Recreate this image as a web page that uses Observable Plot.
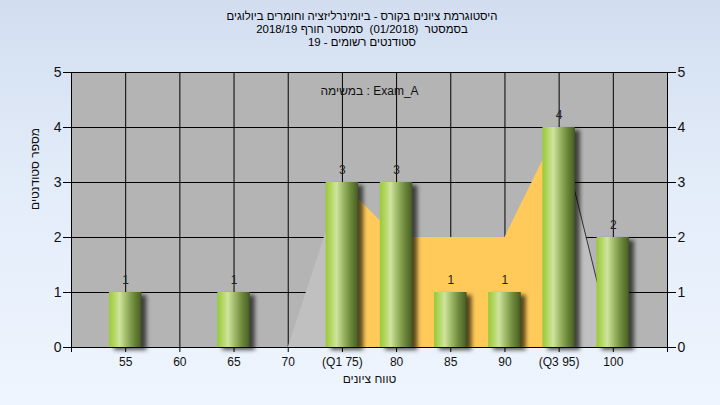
<!DOCTYPE html>
<html>
<head>
<meta charset="utf-8">
<script src="https://cdn.jsdelivr.net/npm/d3@7"></script>
<script src="https://cdn.jsdelivr.net/npm/@observablehq/plot@0.6"></script>
<style>
  html, body { margin: 0; padding: 0; }
  body {
    width: 720px; height: 405px; overflow: hidden;
    background: linear-gradient(to bottom, #d2def0 0%, #e3ecf9 45%, #eef5fe 100%);
    font-family: "Liberation Sans", Arial, sans-serif;
  }
  #title {
    height: 60px; box-sizing: border-box; padding-top: 10px;
    text-align: center; font-size: 11.4px; line-height: 13px; color: #000;
    width: 724px; white-space: pre;
  }
  #chart svg { display: block; background: transparent; }
</style>
</head>
<body>
<div id="title"><div>היסטוגרמת ציונים בקורס - ביומינרליזציה וחומרים ביולוגים</div><div>בסמסטר  (01/2018)  סמסטר חורף 2018/19</div><div>סטודנטים רשומים - 19</div></div>
<div id="chart"></div>
<script>
// ---- data ----
const categories = [55, 60, 65, 70, 75, 80, 85, 90, 95, 100];
const counts     = [1, 0, 1, 0, 3, 3, 1, 1, 4, 2];
const tickLabels = ["55", "60", "65", "70", "(Q1 75)", "80", "85", "90", "(Q3 95)", "100"];
const areaGrades = [70, 75, 80, 85, 90, 95, 100];
const areaLevels = [0, 3, 2, 2, 2, 4, 0];
const q1 = 75, q3 = 95;
const yTicks = [0, 1, 2, 3, 4, 5];
const xDomain = [50, 105];
const annotation = "במשימה : Exam_A";
const yLabel = "מספר סטודנטים";
const xLabel = "טווח ציונים";

// ---- derived ----
const binWidth = 5;
const hw = binWidth * 0.3;
const bars = categories.map((c, i) => ({c, v: counts[i]})).filter(d => d.v > 0);
const labelOf = new Map(categories.map((c, i) => [c, tickLabels[i]]));
const pts = areaGrades.map((g, i) => ({g, v: areaLevels[i]}));
const low = pts.filter(p => p.g <= q1);
const mid = pts.filter(p => p.g >= q1 && p.g <= q3);
const high = pts.filter(p => p.g >= q3);
const xTicks = d3.range(xDomain[0], xDomain[1] + 0.1, binWidth);

const plot = Plot.plot({
  width: 720,
  height: 345,
  marginTop: 12,
  marginBottom: 58,
  marginLeft: 71,
  marginRight: 53,
  style: {fontFamily: "'Liberation Sans', Arial, sans-serif", fontSize: "12px", color: "#111", background: "transparent"},
  x: {type: "linear", domain: xDomain},
  y: {domain: [0, 5]},
  marks: [
    Plot.frame({fill: "#b4b4b4", stroke: null}),
    Plot.ruleY(yTicks, {stroke: "#000", strokeWidth: 1}),
    Plot.ruleX(categories, {stroke: "#000", strokeWidth: 1}),
    Plot.areaY(low, {x: "g", y: "v", fill: "#c0c0c0"}),
    Plot.areaY(high, {x: "g", y: "v", fill: "#c0c0c0"}),
    Plot.areaY(mid, {x: "g", y: "v", fill: "#ffca5a"}),
    Plot.lineY(high, {x: "g", y: "v", stroke: "#333", strokeWidth: 1}),
    Plot.ruleX(xDomain, {stroke: "#000", strokeWidth: 1}),
    Plot.rectY(bars, {x1: d => d.c - hw, x2: d => d.c + hw, y: "v", fill: "#000", fillOpacity: 0.65, dx: 5, dy: 3}),
    Plot.rectY(bars, {x1: d => d.c - hw, x2: d => d.c + hw, y: "v", fill: "url(#barGrad)"}),
    Plot.text(bars, {x: "c", y: "v", text: d => String(d.v), dy: -12, fontSize: 12, fill: "#222"}),
    Plot.text([annotation], {frameAnchor: "top", dy: 14, fontSize: 12, fill: "#111"}),
    Plot.axisY({anchor: "left", ticks: yTicks, tickSize: 8, tickPadding: 2, fontSize: 14, label: null, stroke: "#000", tickFormat: d => String(d)}),
    Plot.axisY({anchor: "right", ticks: yTicks, tickSize: 8, tickPadding: 2, fontSize: 14, label: null, stroke: "#000", tickFormat: d => String(d)}),
    Plot.axisX({anchor: "bottom", ticks: xTicks, tickSize: 5, tickPadding: 5, fontSize: 12, label: null, stroke: "#000",
      tickFormat: d => labelOf.get(d) ?? ""}),
    Plot.text([yLabel], {frameAnchor: "left", dx: -36, rotate: -90, fontSize: 12, fill: "#111"}),
    Plot.text([xLabel], {frameAnchor: "bottom", dy: 35, fontSize: 12, fill: "#111"})
  ]
});

const svg = d3.select(plot);
const defs = svg.insert("defs", ":first-child");
const grad = defs.append("linearGradient").attr("id", "barGrad").attr("x1", 0).attr("x2", 1).attr("y1", 0).attr("y2", 0);
[[0, "#98c93a"], [0.12, "#acd356"], [0.33, "#cfe49e"], [0.5, "#a6c070"], [0.75, "#6f8b3c"], [0.95, "#4e6628"], [1, "#3c521e"]]
  .forEach(([o, c]) => grad.append("stop").attr("offset", o).attr("stop-color", c));
const filt = defs.append("filter").attr("id", "shadowBlur").attr("x", "-30%").attr("y", "-10%").attr("width", "160%").attr("height", "120%");
filt.append("feGaussianBlur").attr("stdDeviation", 2);
const rectGroups = svg.selectAll("g[aria-label='rect']").nodes();
if (rectGroups.length) d3.select(rectGroups[0]).attr("filter", "url(#shadowBlur)");

document.getElementById("chart").appendChild(plot);
</script>
</body>
</html>
